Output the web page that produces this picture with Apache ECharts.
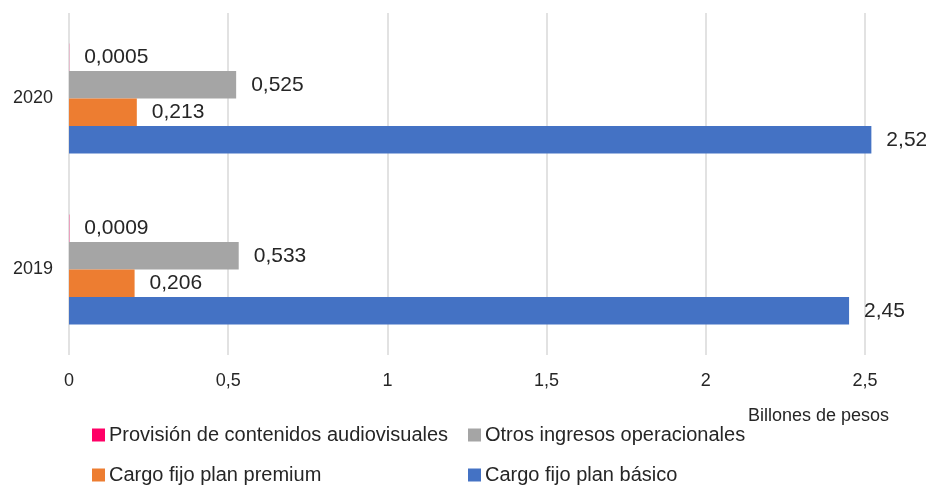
<!DOCTYPE html>
<html>
<head>
<meta charset="utf-8">
<script src="https://cdn.jsdelivr.net/npm/echarts@6/dist/echarts.min.js"></script>
<style>
html,body{margin:0;padding:0;background:#fff;}
#chart{width:926px;height:487px;}
</style>
</head>
<body>
<div id="chart"></div>
<script>
const categories = ['2019', '2020'];
const seriesNames = ['Provisión de contenidos audiovisuales', 'Otros ingresos operacionales', 'Cargo fijo plan premium', 'Cargo fijo plan básico'];
const provision = [0.0009, 0.0005];
const otros = [0.533, 0.525];
const premium = [0.206, 0.213];
const basico = [2.45, 2.52];
const xTicks = [0, 0.5, 1, 1.5, 2, 2.5];
const colors = ['#FF0066', '#A5A5A5', '#ED7D31', '#4472C4'];
const unitLabel = 'Billones de pesos';

const FONT = 'Liberation Sans, Arial, sans-serif';
const fmt = v => String(v).replace('.', ',');

function mk(name, data, color) {
  return {
    name: name, type: 'bar', data: data, barWidth: 27.5, barGap: '0%',
    clip: false,
    itemStyle: { color: color },
    label: { show: true, position: 'right', distance: 15, color: '#262626',
      fontFamily: FONT, fontSize: 21, formatter: p => fmt(p.value) }
  };
}

const legendPos = [[92, 425], [468, 425], [92, 465], [468, 465]];
const legends = seriesNames.map((n, i) => ({
  left: legendPos[i][0], top: legendPos[i][1], padding: 0,
  itemWidth: 13, itemHeight: 13, icon: 'rect', data: [n],
  textStyle: { fontFamily: FONT, fontSize: 20, lineHeight: 20, color: '#262626', padding: [0, 0, 0, -1] }
}));

const chart = echarts.init(document.getElementById('chart'));
chart.setOption({
  animation: false,
  grid: { left: 69, right: 61, top: 13, bottom: 132 },
  title: { text: unitLabel, left: 743, top: 402,
    textStyle: { fontFamily: FONT, fontSize: 18, fontWeight: 'normal', color: '#262626' } },
  legend: legends,
  xAxis: {
    type: 'value', min: xTicks[0], max: xTicks[xTicks.length - 1], interval: 0.5,
    axisLine: { show: false }, axisTick: { show: false },
    splitLine: { show: true, lineStyle: { color: '#d9d9d9', width: 1.5 } },
    axisLabel: { margin: 17, fontFamily: FONT, fontSize: 18, color: '#262626', formatter: v => fmt(v) }
  },
  yAxis: {
    type: 'category', data: categories,
    axisLine: { show: false }, axisTick: { show: false },
    axisLabel: { margin: 16, fontFamily: FONT, fontSize: 18, color: '#262626' }
  },
  series: [
    mk(seriesNames[0], provision, colors[0]),
    mk(seriesNames[1], otros, colors[1]),
    mk(seriesNames[2], premium, colors[2]),
    mk(seriesNames[3], basico, colors[3])
  ]
});
</script>
</body>
</html>
